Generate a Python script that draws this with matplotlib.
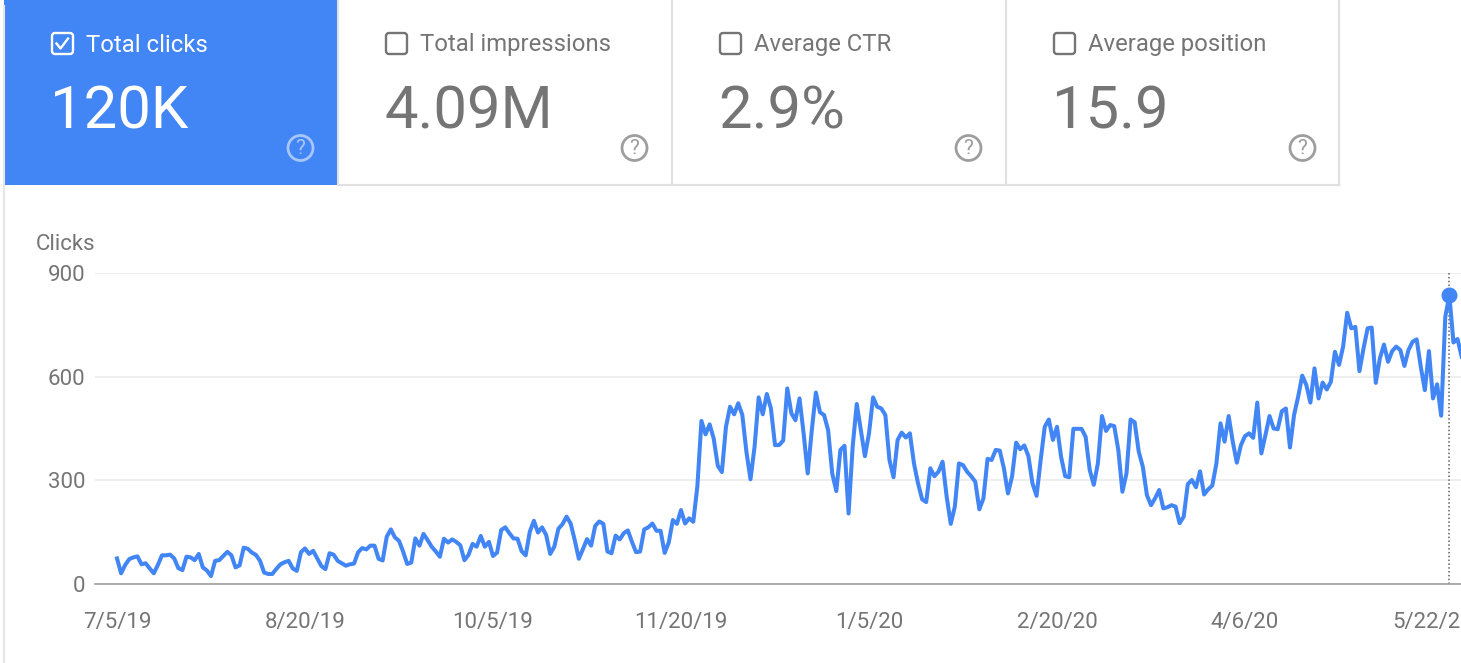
import pandas as pd
import matplotlib
matplotlib.use('Agg')
from matplotlib import pyplot as plt
from matplotlib.patches import Rectangle, FancyBboxPatch, Circle

plt.rcParams['font.family'] = ['Roboto', 'DejaVu Sans']

BLUE = '#4285f4'
GREY = '#757575'

card_titles = ['Total clicks', 'Total impressions', 'Average CTR', 'Average position']
card_values = ['120K', '4.09M', '2.9%', '15.9']

start_date = '2019-07-05'
tick_dates = ['2019-07-05', '2019-08-20', '2019-10-05', '2019-11-20', '2020-01-05',
              '2020-02-20', '2020-04-06', '2020-05-22']
tick_labels = ['7/5/19', '8/20/19', '10/5/19', '11/20/19', '1/5/20', '2/20/20', '4/6/20', '5/22/20']
y_ticks = [0, 300, 600, 900]
peak_clicks = 836

# daily clicks
clicks_2019_a = [74, 31, 55, 72, 77, 80, 57, 60, 45, 31, 55, 83, 83, 85, 74, 46, 40, 79, 77, 69,
                 87, 48, 39, 23, 67, 69, 81, 93, 83, 48, 54, 105, 102, 91, 84, 67, 33, 29, 29, 44,
                 57, 63, 67, 45, 38, 92, 103, 87, 96, 74, 52, 43, 89, 85, 67, 60, 53, 57, 59, 92,
                 104, 100, 111, 111, 73, 68, 137, 158, 135, 125, 94, 58, 62, 132, 111, 145, 127, 108, 94, 79,
                 131, 120]
clicks_2019_b = [129, 122, 112, 69, 84, 116, 108, 139, 108, 122, 81, 91, 156, 164, 147, 132, 131, 95, 83, 151,
                 183, 149, 164, 142, 87, 108, 160, 173, 195, 175, 127, 73, 101, 130, 111, 168, 181, 174, 94, 89,
                 140, 129, 147, 155, 122, 92, 94, 158, 164, 175, 154, 154, 90, 120, 185, 174, 214, 175]
clicks_2019_c = [190, 180, 282, 472, 433, 462, 421, 342, 324, 455, 513, 491, 523, 489, 383, 303, 397, 540, 491, 550,
                 508, 402, 402, 415, 566, 494, 474, 537, 436, 320, 445, 554, 497, 489, 445, 320, 269, 388, 400, 204,
                 397, 521, 445, 370, 436, 540, 513, 508, 489, 359, 309, 417, 438, 424, 436, 349, 291, 245, 237, 335,
                 312, 325, 354, 253, 174, 224, 349, 344, 325, 312, 296, 216, 248, 362]
clicks_2020_a = [359, 388, 386, 335, 262, 311, 409, 390, 401, 370, 291, 255, 359, 455, 476, 417, 455, 368, 312, 309,
                 449, 449, 449, 426, 330, 287, 349, 486, 443, 460, 457, 388, 267, 320, 476, 468, 383, 339, 257, 228,
                 248, 272, 219, 222, 228, 224, 176, 195, 289, 301, 280, 326, 259, 274, 285, 349, 465, 412, 486]
clicks_2020_b = [412, 351, 402, 428, 436, 423, 525, 378, 431, 486, 450, 448, 500, 508, 395, 489, 542, 603, 576, 525,
                 624, 537, 583, 563, 585, 672, 634, 687, 785, 740, 744, 616, 682, 740, 742, 582, 653, 693, 643, 674,
                 687, 677, 631, 677, 701, 708, 629, 561, 674, 537, 578, 487, 773, 836, 699, 709, 658]
clicks = clicks_2019_a + clicks_2019_b + clicks_2019_c + clicks_2020_a + clicks_2020_b

W, H = 1461, 663
fig = plt.figure(figsize=(W / 100, H / 100), dpi=100, facecolor='white')

# page layer, in pixels
bg = fig.add_axes([0, 0, 1, 1])
bg.set_xlim(0, W)
bg.set_ylim(H, 0)
bg.axis('off')

card_left = [5, 339, 673, 1007]
card_h = 185
bg.plot([3.5, 3.5], [6, H], color='#e6e6e6', lw=1.5)
bg.plot([338, 1339], [184.5, 184.5], color='#e0e0e0', lw=1.5)
bg.plot([1339, 1339], [0, 185], color='#e0e0e0', lw=1.5)

for i in range(4):
    x0 = card_left[i]
    active = i == 0
    fg = 'white' if active else GREY
    if active:
        bg.add_patch(Rectangle((x0 - 1, 0), 335, card_h, fc=BLUE, ec='none'))
    else:
        bg.plot([x0 - 1, x0 - 1], [0, 185], color='#e0e0e0', lw=1.5)
    bg.add_patch(FancyBboxPatch((x0 + 47, 33), 21, 21, boxstyle='round,pad=0,rounding_size=3',
                                fc='none', ec=fg, lw=1.7))
    if active:
        bg.plot([x0 + 51.5, x0 + 55.5, x0 + 63], [43.5, 48.5, 38.5], color='white', lw=1.7)
    bg.text(x0 + 81, 45, card_titles[i], color=fg, fontsize=17.2, va='center', ha='left')
    bg.text(x0 + 45, 112, card_values[i], color=fg, fontsize=43, va='center', ha='left')
    help_col = '#a8c6fa' if active else '#9e9e9e'
    bg.add_patch(Circle((x0 + 295.5, 148), 12.5, fc='none', ec=help_col, lw=2))
    bg.text(x0 + 295.5, 148.5, '?', color=help_col, fontsize=15, va='center', ha='center')

bg.text(36, 245, 'Clicks', color=GREY, fontsize=16, va='center', ha='left')

# chart
ax_left, ax_top, ax_bottom = 95, 273, 584
ax = fig.add_axes([ax_left / W, 1 - ax_bottom / H, (W - ax_left) / W, (ax_bottom - ax_top) / H])
ax.patch.set_alpha(0)
dates = pd.date_range(start_date, periods=len(clicks), freq='D')
ax.plot(dates, clicks, color=BLUE, lw=2.9, solid_joinstyle='round', zorder=3)

peak_date = dates[clicks.index(peak_clicks)]
ax.axvline(peak_date, color='#616161', lw=1.1, ls=(0, (1, 1.5)), zorder=2)
ax.plot([peak_date], [peak_clicks], 'o', color=BLUE, ms=10.5, zorder=4)

ax.set_xlim(pd.Timestamp(start_date) - pd.Timedelta(days=22 / 4.087),
            pd.Timestamp(start_date) + pd.Timedelta(days=(W - 117) / 4.087))
ax.set_ylim(0, 900)
ax.set_yticks(y_ticks)
ax.set_xticks(pd.to_datetime(tick_dates))
ax.set_xticklabels(tick_labels)
ax.tick_params(axis='both', length=0, labelcolor=GREY, labelsize=16)
ax.tick_params(axis='x', pad=20.5)
ax.tick_params(axis='y', pad=7)
for lab in ax.get_xticklabels():
    lab.set_clip_on(False)
ax.grid(axis='y', color='#ebebeb', lw=1.2)
ax.grid(axis='x', visible=False)
ax.set_axisbelow(True)
for s in ['top', 'right', 'left']:
    ax.spines[s].set_visible(False)
ax.spines['bottom'].set_color('#9e9e9e')
ax.spines['bottom'].set_linewidth(1.2)

fig.savefig('out.png', dpi=100)
